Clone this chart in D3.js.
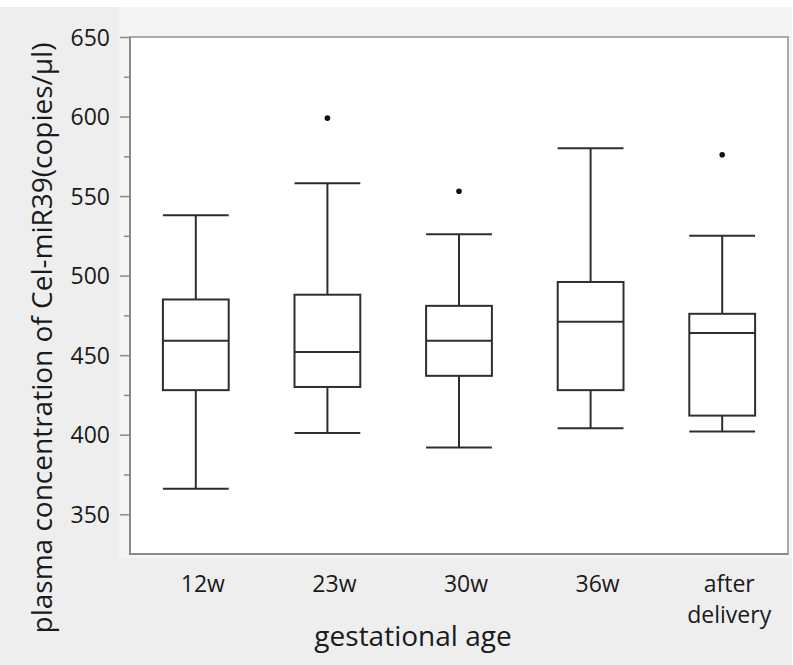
<!DOCTYPE html>
<html>
<head>
<meta charset="utf-8">
<title>Cel-miR39 by gestational age</title>
<script src="https://d3js.org/d3.v7.min.js"></script>
<style>
body{ margin:0; background:#fff; }
.chart text{ font-family:"Open Sans", sans-serif; fill:#1a1a1a; }
.box line, .box rect{ stroke:#2e2e2e; stroke-width:2; }
</style>
</head>
<body>
<svg class="chart"></svg>
<script>
// values
var groups=["12w","23w","30w","36w","after delivery"];
var whiskerLow=[366,401,392,404,402];
var q1=[428,430,437,428,412];
var median=[459,452,459,471,464];
var q3=[485,488,481,496,476];
var whiskerHigh=[538,558,526,580,525];
var outliers=[[],[599],[553],[],[576]];
var majorTicks=[350,400,450,500,550,600,650];
var minorTicks=[375,425,475,525,575,625];

var width=793,height=665;
var plot={left:130,right:788,top:37,bottom:554};

var svg=d3.select(".chart").attr("width",width).attr("height",height);

// backgrounds
svg.append("rect").attr("x",0).attr("y",7).attr("width",792).attr("height",height-7).attr("fill","#eeeeee");
svg.append("rect").attr("x",118).attr("y",7).attr("width",674).attr("height",551).attr("fill","#f4f4f4");

var x=d3.scaleBand().domain(groups).range([plot.left,plot.right]).paddingInner(0.5).paddingOuter(0.25);
var y=d3.scaleLinear().domain([325,650]).range([plot.bottom,plot.top]);

svg.append("rect")
	.attr("x",plot.left).attr("y",plot.top)
	.attr("width",plot.right-plot.left).attr("height",plot.bottom-plot.top)
	.attr("fill","#fff").attr("stroke","#aaa").attr("stroke-width",2);

// left and bottom axis lines are a little darker
svg.append("line").attr("x1",plot.left).attr("x2",plot.left).attr("y1",plot.top).attr("y2",plot.bottom+1)
	.attr("stroke","#8a8a8a").attr("stroke-width",2);
svg.append("line").attr("x1",plot.left).attr("x2",plot.right).attr("y1",plot.bottom).attr("y2",plot.bottom)
	.attr("stroke","#8a8a8a").attr("stroke-width",2);

var yAxis=svg.append("g").attr("transform","translate("+(plot.left-1)+",0)")
	.call(d3.axisLeft(y).tickValues(majorTicks).tickSize(9).tickPadding(10));
yAxis.select(".domain").remove();
yAxis.selectAll(".tick line").attr("stroke","#8a8a8a").attr("stroke-width",1.5);
yAxis.selectAll(".tick text").attr("font-size","23px").attr("fill","#1a1a1a").attr("dy","0.35em")
	.attr("font-family","Open Sans");

var yMinor=svg.append("g").attr("transform","translate("+(plot.left-1)+",0)")
	.call(d3.axisLeft(y).tickValues(minorTicks).tickSize(5).tickFormat(""));
yMinor.select(".domain").remove();
yMinor.selectAll(".tick line").attr("stroke","#8a8a8a").attr("stroke-width",1.5);

// boxes
var rows=groups.map(function(g,i){
	return {name:g,lo:whiskerLow[i],q1:q1[i],med:median[i],q3:q3[i],hi:whiskerHigh[i],out:outliers[i]};
});

var bw=x.bandwidth();
var boxes=svg.selectAll("g.box").data(rows).enter().append("g")
	.attr("class","box")
	.attr("transform",function(d){return "translate("+x(d.name)+",0)";});

boxes.append("line").attr("x1",bw/2).attr("x2",bw/2)
	.attr("y1",function(d){return y(d.hi);}).attr("y2",function(d){return y(d.q3);});
boxes.append("line").attr("x1",bw/2).attr("x2",bw/2)
	.attr("y1",function(d){return y(d.q1);}).attr("y2",function(d){return y(d.lo);});
boxes.append("line").attr("x1",0).attr("x2",bw)
	.attr("y1",function(d){return y(d.hi);}).attr("y2",function(d){return y(d.hi);});
boxes.append("line").attr("x1",0).attr("x2",bw)
	.attr("y1",function(d){return y(d.lo);}).attr("y2",function(d){return y(d.lo);});
boxes.append("rect").attr("x",0).attr("width",bw)
	.attr("y",function(d){return y(d.q3);})
	.attr("height",function(d){return y(d.q1)-y(d.q3);})
	.attr("fill","#fff");
boxes.append("line").attr("x1",0).attr("x2",bw)
	.attr("y1",function(d){return y(d.med);}).attr("y2",function(d){return y(d.med);});

boxes.selectAll("circle").data(function(d){return d.out;}).enter().append("circle")
	.attr("cx",bw/2).attr("cy",function(v){return y(v);}).attr("r",2.8).attr("fill","#111");

// category labels
var labels=svg.selectAll("text.cat").data(groups).enter().append("text")
	.attr("class","cat")
	.attr("text-anchor","middle")
	.attr("font-size","23px")
	.attr("transform",function(d){return "translate("+(x(d)+bw/2+7)+",592)";});
labels.selectAll("tspan").data(function(d){return d.split(" ");}).enter().append("tspan")
	.attr("x",0).attr("dy",function(d,i){return i==0?0:31;})
	.text(function(d){return d;});

// axis titles
svg.append("text").attr("text-anchor","middle").attr("font-size","28px")
	.attr("x",413).attr("y",646)
	.text("gestational age");
svg.append("text").attr("text-anchor","middle").attr("font-size","28px")
	.attr("transform","translate(52,338) rotate(-90)")
	.text("plasma concentration of Cel-miR39(copies/μl)");
</script>
</body>
</html>
